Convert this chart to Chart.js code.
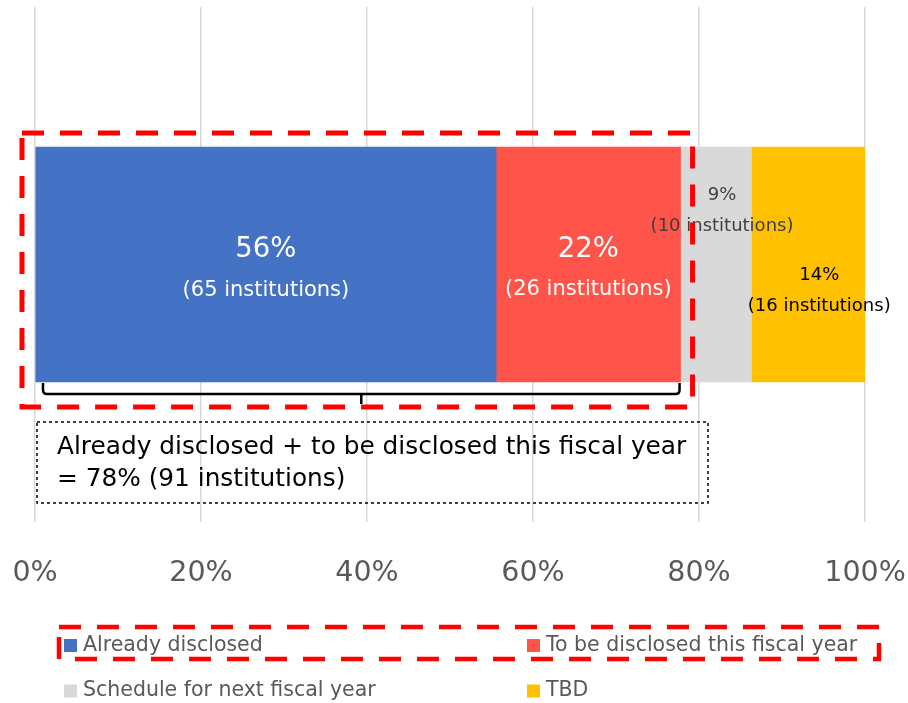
<!DOCTYPE html>
<html>
<head>
<meta charset="utf-8">
<script src="https://cdn.jsdelivr.net/npm/chart.js@4/dist/chart.umd.min.js"></script>
<style>
  html, body { margin: 0; padding: 0; background: #ffffff; }
  #wrap { width: 908px; height: 703px; position: relative; }
</style>
</head>
<body>
<div id="wrap"><canvas id="chart" width="908" height="703"></canvas></div>
<script>
// ---- data ----
const categories = ['Institutions'];
const seriesNames = [
  'Already disclosed',
  'To be disclosed this fiscal year',
  'Schedule for next fiscal year',
  'TBD'
];
const institutionCounts = [65, 26, 10, 16];
const tickValues = [0, 20, 40, 60, 80, 100];

// ---- styles ----
const seriesColors = ['#4472C4', '#FF5449', '#D9D9D9', '#FFC000'];
const labelColors = ['#FFFFFF', '#FFFFFF', '#404040', '#000000'];
const FONT = "'DejaVu Sans', Verdana, sans-serif";
// per-segment label placement relative to segment centre
const labelPlacement = [
  { dx: 0,  dy1: -15, dy2: 26, size1: 27.5, size2: 21 },
  { dx: 0,  dy1: -15, dy2: 25, size1: 27.5, size2: 21 },
  { dx: 6,  dy1: -69, dy2: -38, size1: 18, size2: 18 },
  { dx: 11, dy1: 11,  dy2: 42, size1: 18, size2: 18 }
];

const total = institutionCounts.reduce((a, b) => a + b, 0);
const shares = institutionCounts.map(c => c / total * 100);
const pct = v => Math.round(v) + '%';

const datasets = seriesNames.map((name, i) => ({
  label: name,
  data: [shares[i]],
  count: institutionCounts[i],
  backgroundColor: seriesColors[i],
  borderWidth: 0,
  barThickness: 235
}));

// value labels inside / beside each segment
const segmentLabels = {
  id: 'segmentLabels',
  afterDatasetsDraw(chart) {
    const ctx = chart.ctx;
    chart.data.datasets.forEach((ds, i) => {
      const bar = chart.getDatasetMeta(i).data[0];
      const cx = (bar.x + bar.base) / 2;
      const cy = bar.y;
      const p = labelPlacement[i];
      ctx.save();
      ctx.fillStyle = labelColors[i];
      ctx.textAlign = 'center';
      ctx.textBaseline = 'middle';
      ctx.font = p.size1 + 'px ' + FONT;
      ctx.fillText(pct(ds.data[0]), cx + p.dx, cy + p.dy1);
      ctx.font = p.size2 + 'px ' + FONT;
      ctx.fillText('(' + ds.count + ' institutions)', cx + p.dx, cy + p.dy2);
      ctx.restore();
    });
  }
};

// bracket, highlight frames and summary box
const annotations = {
  id: 'annotations',
  afterDraw(chart) {
    const ctx = chart.ctx;
    const area = chart.chartArea;
    const b0 = chart.getDatasetMeta(0).data[0];
    const b1 = chart.getDatasetMeta(1).data[0];
    const barTop = b0.y - b0.height / 2;
    const barBottom = b0.y + b0.height / 2;
    const endTwo = b1.x;
    const sumCount = institutionCounts[0] + institutionCounts[1];
    const sumShare = shares[0] + shares[1];

    ctx.save();
    // bracket under first two segments
    const bl = area.left + 8, br = endTwo - 1, by = barBottom + 12, r = 4;
    const mid = (bl + br) / 2;
    ctx.strokeStyle = '#000000';
    ctx.lineWidth = 2.5;
    ctx.setLineDash([]);
    ctx.beginPath();
    ctx.moveTo(bl, barBottom + 1);
    ctx.lineTo(bl, by - r);
    ctx.quadraticCurveTo(bl, by, bl + r, by);
    ctx.lineTo(br - r, by);
    ctx.quadraticCurveTo(br, by, br, by - r);
    ctx.lineTo(br, barBottom + 1);
    ctx.moveTo(mid, by);
    ctx.lineTo(mid, by + 10);
    ctx.stroke();

    // summary box
    const sx = area.left + 2, sy = barBottom + 40, sw = 671, sh = 81;
    ctx.lineWidth = 1.5;
    ctx.setLineDash([3, 3]);
    ctx.strokeRect(sx, sy, sw, sh);
    ctx.setLineDash([]);
    ctx.fillStyle = '#000000';
    ctx.font = '24.8px ' + FONT;
    ctx.textAlign = 'left';
    ctx.textBaseline = 'middle';
    ctx.fillText('Already disclosed + to be disclosed this fiscal year', sx + 20, sy + 26);
    ctx.fillText('= ' + pct(sumShare) + ' (' + sumCount + ' institutions)', sx + 20, sy + 58);

    // red highlight frame around the first two segments
    ctx.strokeStyle = '#FF0000';
    ctx.lineWidth = 5;
    ctx.setLineDash([22, 16]);
    ctx.strokeRect(area.left - 13, barTop - 14, endTwo + 12 - (area.left - 13), barBottom + 25 - (barTop - 14));
    ctx.restore();
  }
};

// two-column legend below the axis
const gridLegend = {
  id: 'gridLegend',
  afterDraw(chart) {
    const ctx = chart.ctx;
    const cols = [64, 527];
    const rows = [645.5, 691];
    ctx.save();
    ctx.textAlign = 'left';
    ctx.textBaseline = 'middle';
    ctx.font = '20.5px ' + FONT;
    chart.data.datasets.forEach((ds, i) => {
      const x = cols[i % 2];
      const y = rows[Math.floor(i / 2)];
      ctx.fillStyle = ds.backgroundColor;
      ctx.fillRect(x, y - 6.5, 13, 13);
      ctx.fillStyle = '#595959';
      ctx.fillText(ds.label, x + 19, y);
    });
    // red frame around the first legend row
    ctx.strokeStyle = '#FF0000';
    ctx.lineWidth = 4.5;
    ctx.setLineDash([22, 16]);
    ctx.strokeRect(59, 627, 820, 32);
    ctx.restore();
  }
};

new Chart(document.getElementById('chart'), {
  type: 'bar',
  data: { labels: categories, datasets },
  options: {
    indexAxis: 'y',
    responsive: false,
    animation: false,
    layout: { padding: { left: 35, right: 43, top: 7, bottom: 0 } },
    plugins: { legend: { display: false }, tooltip: { enabled: false } },
    scales: {
      x: {
        stacked: true,
        min: tickValues[0],
        max: tickValues[tickValues.length - 1],
        afterBuildTicks: s => { s.ticks = tickValues.map(v => ({ value: v })); },
        afterFit: s => { s.height = 181; s.paddingLeft = 0; s.paddingRight = 0; },
        ticks: {
          callback: v => v + '%',
          color: '#595959',
          font: { family: FONT, size: 28.5 },
          padding: 34,
          maxRotation: 0,
          autoSkip: false
        },
        grid: { color: '#D9D9D9', lineWidth: 1.5, drawTicks: false },
        border: { display: false }
      },
      y: { stacked: true, display: false }
    }
  },
  plugins: [segmentLabels, annotations, gridLegend]
});
</script>
</body>
</html>
